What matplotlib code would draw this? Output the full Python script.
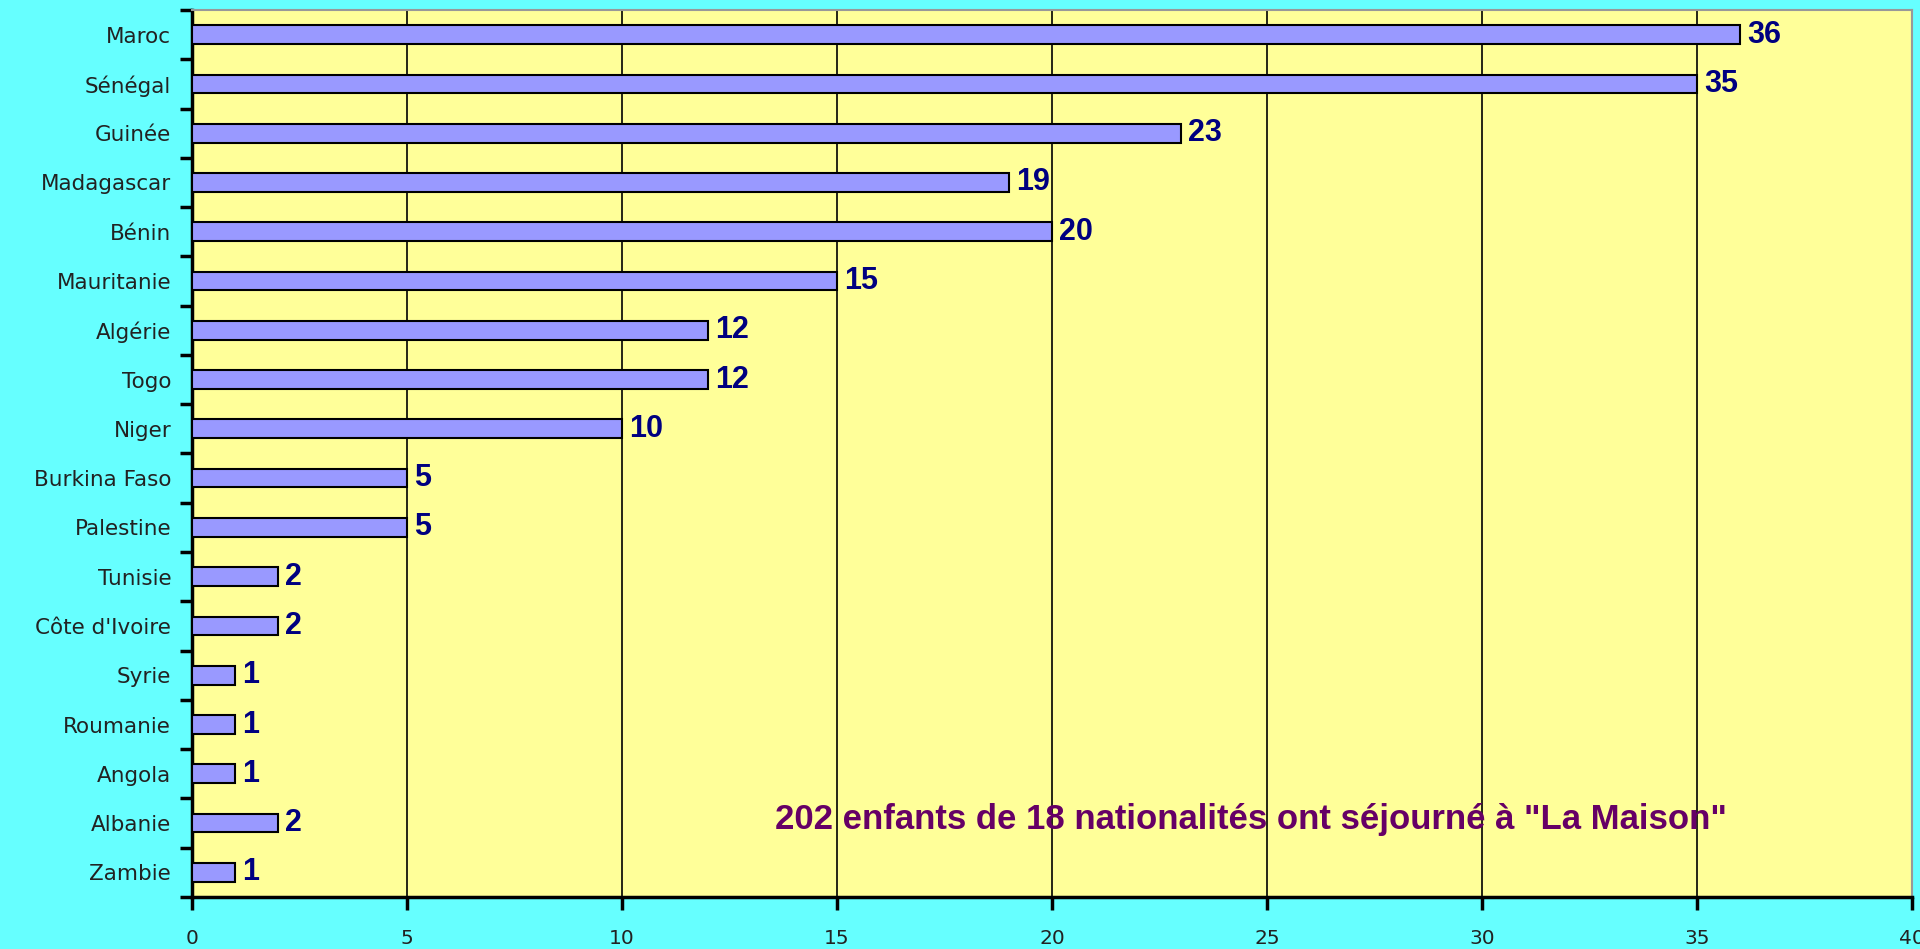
import matplotlib
matplotlib.use("Agg")
import matplotlib.pyplot as plt
from matplotlib.ticker import FixedLocator, NullFormatter

# Données
pays = ["Maroc", "Sénégal", "Guinée", "Madagascar", "Bénin", "Mauritanie",
        "Algérie", "Togo", "Niger", "Burkina Faso", "Palestine", "Tunisie",
        "Côte d'Ivoire", "Syrie", "Roumanie", "Angola", "Albanie", "Zambie"]
enfants = [36, 35, 23, 19, 20, 15, 12, 12, 10, 5, 5, 2, 2, 1, 1, 1, 2, 1]
xticks = [0, 5, 10, 15, 20, 25, 30, 35, 40]
texte = "202 enfants de 18 nationalités ont séjourné à \"La Maison\""

gras = ["Liberation Sans", "DejaVu Sans"]
plt.rcParams["font.family"] = ["DejaVu Sans"]

fig = plt.figure(figsize=(19.2, 9.49), dpi=100, facecolor="#66FFFF")
ax = fig.add_axes([0.1, 0.0548, 0.8958, 0.9347])
ax.set_facecolor("#FFFF99")

n = len(pays)
ypos = list(range(n))
ax.barh(ypos, enfants, height=0.38, color="#9999FF", edgecolor="black",
        linewidth=1.5, zorder=3)

for y, v in zip(ypos, enfants):
    ax.annotate(str(v), (v, y), xytext=(5, 0), textcoords="offset points",
                ha="left", va="center", fontsize=22, fontweight="bold",
                color="#000080", family=gras, zorder=4)

ax.set_xlim(0, 40)
ax.set_ylim(n - 0.5, -0.5)
ax.set_xticks(xticks)
ax.set_xticklabels([str(t) for t in xticks], fontsize=14.5, color="#222222")
ax.xaxis.grid(True, color="black", linewidth=1.2, zorder=1)
ax.set_axisbelow(True)

# graduations entre les catégories, libellés au centre
ax.yaxis.set_major_locator(FixedLocator([i - 0.5 for i in range(n + 1)]))
ax.yaxis.set_major_formatter(NullFormatter())
ax.yaxis.set_minor_locator(FixedLocator(ypos))
ax.set_yticklabels(pays, minor=True, fontsize=15.5, color="#222222")
ax.tick_params(axis="y", which="minor", length=0, pad=15)
ax.tick_params(axis="y", which="major", length=9, width=2.5, direction="out")
ax.tick_params(axis="x", length=9, width=2.5, direction="out", pad=14)

for s in ["left", "bottom"]:
    ax.spines[s].set_linewidth(2.5)
    ax.spines[s].set_color("black")
for s in ["top", "right"]:
    ax.spines[s].set_linewidth(1.5)
    ax.spines[s].set_color("#999999")

ax.text(13.55, 15.93, texte, ha="left", va="center", fontsize=25,
        fontweight="bold", color="#660066", family=gras, zorder=5)

fig.savefig("out.png", dpi=100, facecolor=fig.get_facecolor())
